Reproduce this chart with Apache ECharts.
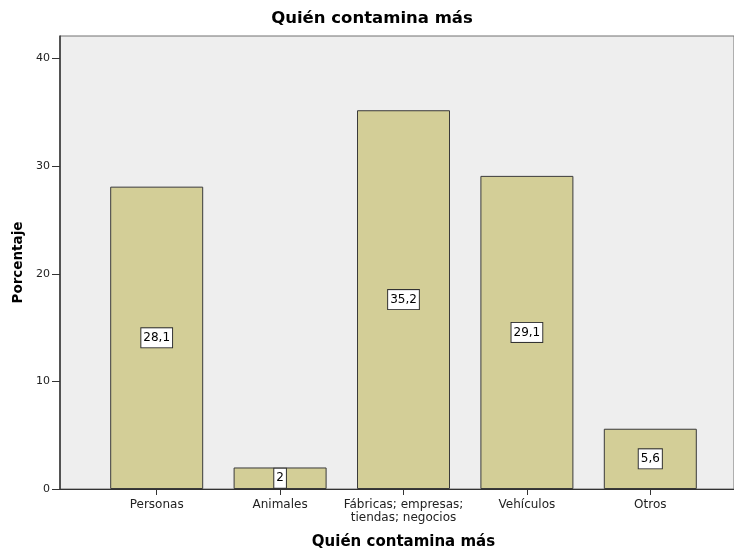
<!DOCTYPE html>
<html>
<head>
<meta charset="utf-8">
<script src="https://cdn.jsdelivr.net/npm/echarts@6/dist/echarts.min.js"></script>
<style>
  html, body { margin: 0; padding: 0; background: #fff; }
  #chart { width: 734px; height: 551px; }
</style>
</head>
<body>
<div id="chart"></div>
<script>
// Respuestas: quién contamina más (porcentaje)
const categories = ['Personas', 'Animales', 'Fábricas; empresas;\ntiendas; negocios', 'Vehículos', 'Otros'];
const percentages = [28.1, 2, 35.2, 29.1, 5.6];
const yTicks = [0, 10, 20, 30, 40];

const FONT = '"DejaVu Sans", Verdana, sans-serif';
const yMax = 42.1;

const chart = echarts.init(document.getElementById('chart'), null, { renderer: 'canvas' });

const option = {
  animation: false,
  backgroundColor: '#ffffff',
  textStyle: { fontFamily: FONT },
  title: {
    text: 'Quién contamina más',
    left: 367,
    top: 5,
    textAlign: 'center',
    textStyle: { fontFamily: FONT, fontSize: 16.5, fontWeight: 'bold', color: '#000' }
  },
  grid: [
    // plot frame with grey background and the value axis
    { left: 60, right: 0, top: 36, bottom: 62, outerBoundsMode: 'none', show: true, backgroundColor: '#eeeeee', borderColor: '#707070', borderWidth: 1 },
    // band area holding the bars
    { left: 95, right: 22, top: 36, bottom: 62, outerBoundsMode: 'none' }
  ],
  xAxis: [
    {
      gridIndex: 0, type: 'value', min: 0, max: 1,
      axisLine: { show: true, lineStyle: { color: '#333', width: 1 } },
      axisTick: { show: false }, axisLabel: { show: false }, splitLine: { show: false }
    },
    {
      gridIndex: 1, type: 'category', data: categories,
      name: 'Quién contamina más', nameLocation: 'middle', nameGap: 46,
      nameTextStyle: { fontFamily: FONT, fontSize: 15, fontWeight: 'bold', color: '#000' },
      axisLine: { show: false },
      axisTick: { show: true, alignWithLabel: true, length: 6, lineStyle: { color: '#333' } },
      axisLabel: { fontFamily: FONT, fontSize: 12, color: '#222', margin: 9, lineHeight: 13, interval: 0 },
      splitLine: { show: false }
    }
  ],
  yAxis: [
    {
      gridIndex: 0, type: 'value', min: 0, max: yMax,
      name: 'Porcentaje', nameLocation: 'middle', nameGap: 35, nameRotate: 90,
      nameTextStyle: { fontFamily: FONT, fontSize: 13.5, fontWeight: 'bold', color: '#000' },
      axisLine: { show: true, lineStyle: { color: '#333', width: 1.5 } },
      axisTick: { show: true, length: 8, inside: false, customValues: yTicks, lineStyle: { color: '#333' } },
      axisLabel: { fontFamily: FONT, fontSize: 11, color: '#222', margin: 10, customValues: yTicks },
      splitLine: { show: false }
    },
    {
      gridIndex: 1, type: 'value', min: 0, max: yMax, show: false
    }
  ],
  series: [
    {
      type: 'bar',
      xAxisIndex: 1, yAxisIndex: 1,
      data: percentages,
      barWidth: 93,
      itemStyle: { color: '#d3ce97', borderColor: '#3a3a3a', borderWidth: 1 },
      label: {
        show: true,
        position: 'inside',
        formatter: p => String(p.value).replace('.', ','),
        fontFamily: FONT, fontSize: 12, color: '#000',
        backgroundColor: '#ffffff', borderColor: '#333', borderWidth: 1,
        padding: [4, 2, 3, 2]
      }
    }
  ]
};

chart.setOption(option);
</script>
</body>
</html>
